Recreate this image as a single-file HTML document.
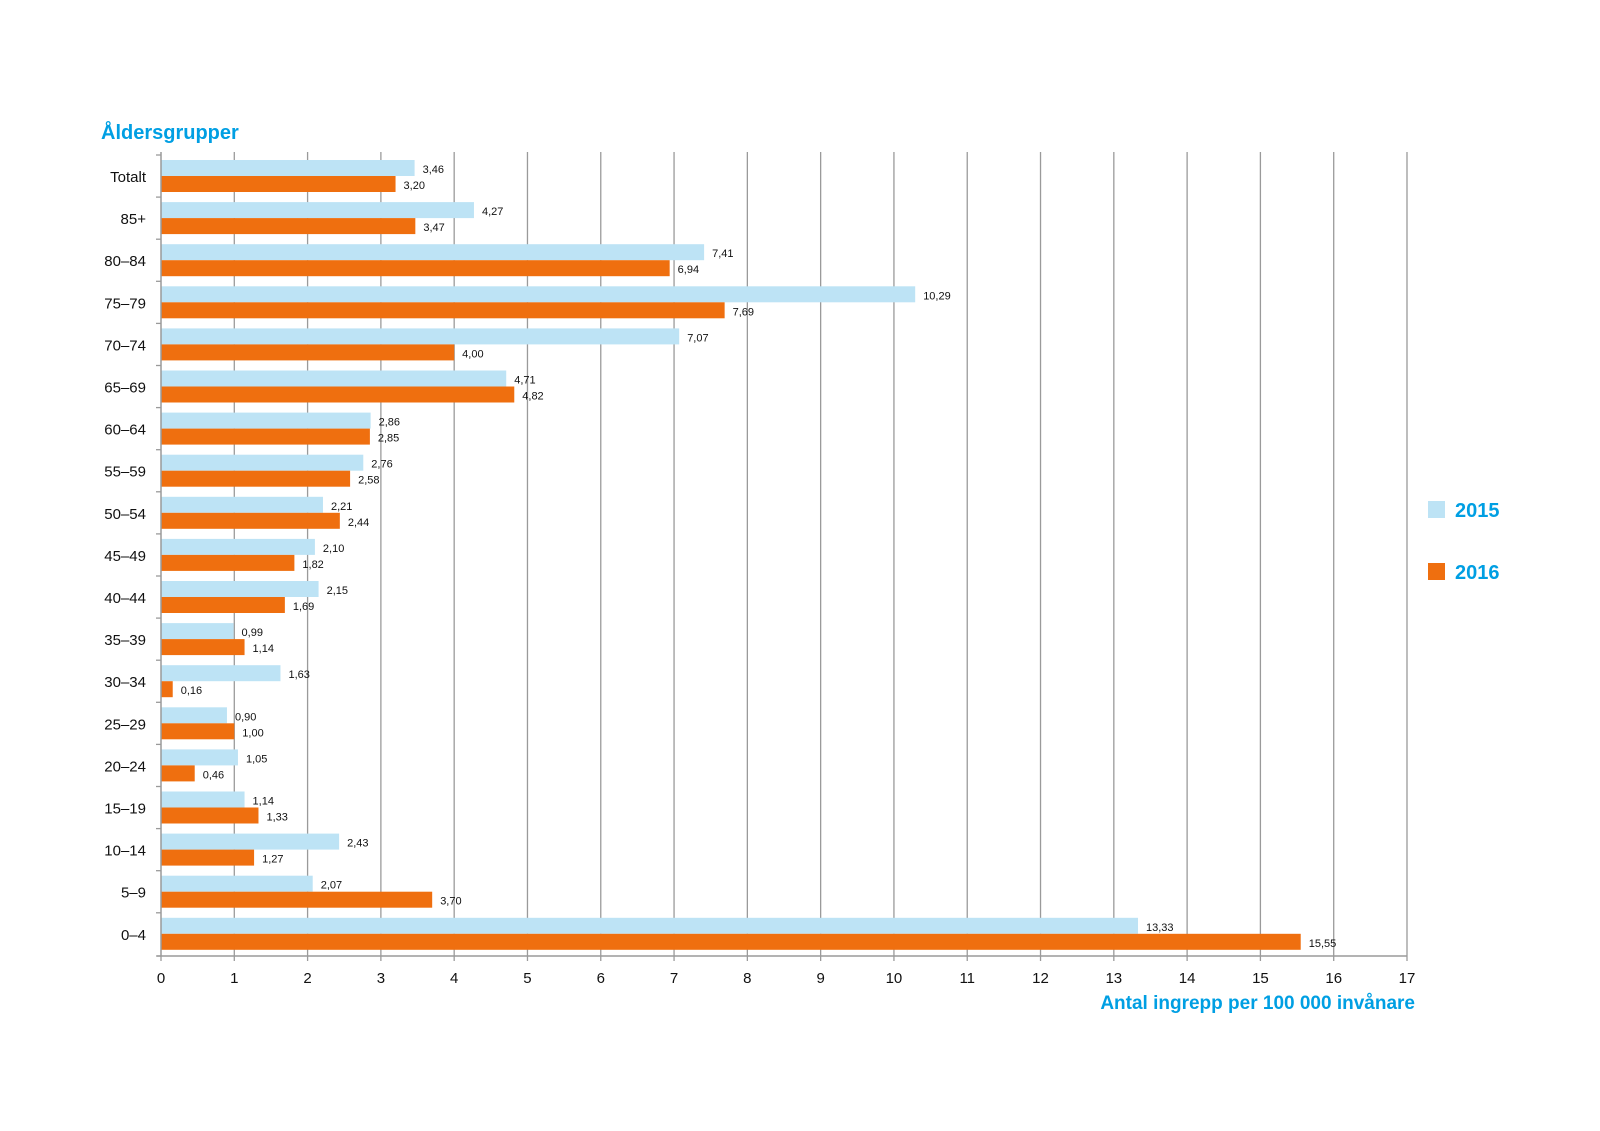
<!DOCTYPE html>
<html><head><meta charset="utf-8"><style>
html,body{margin:0;padding:0;background:#fff;}
svg{display:block;font-family:"Liberation Sans",sans-serif;}
</style></head><body>
<svg id="chart" width="1600" height="1131" viewBox="0 0 1600 1131">
<text x="101" y="139" font-size="20" font-weight="bold" fill="#009fe3">Åldersgrupper</text>
<text x="1415" y="1009" text-anchor="end" font-size="19" font-weight="bold" fill="#009fe3">Antal ingrepp per 100 000 invånare</text>
<g id="grid"></g><g id="bars"></g><g id="axes"></g>
<g>
<rect x="1428" y="501" width="17" height="17" fill="#bde3f5"/>
<text x="1455" y="517" font-size="20" font-weight="bold" fill="#009fe3">2015</text>
<rect x="1428" y="563" width="17" height="17" fill="#ef6f0f"/>
<text x="1455" y="579" font-size="20" font-weight="bold" fill="#009fe3">2016</text>
</g>
</svg>
<script>
const categories=["Totalt","85+","80–84","75–79","70–74","65–69","60–64","55–59","50–54","45–49","40–44","35–39","30–34","25–29","20–24","15–19","10–14","5–9","0–4"];
const values2015=[3.46,4.27,7.41,10.29,7.07,4.71,2.86,2.76,2.21,2.10,2.15,0.99,1.63,0.90,1.05,1.14,2.43,2.07,13.33];
const values2016=[3.20,3.47,6.94,7.69,4.00,4.82,2.85,2.58,2.44,1.82,1.69,1.14,0.16,1.00,0.46,1.33,1.27,3.70,15.55];
const xTicks=[0,1,2,3,4,5,6,7,8,9,10,11,12,13,14,15,16,17];
const NS="http://www.w3.org/2000/svg";
const x0=161,xMax=17,xPx=1407-161;
const yTop=160,pitch=42.1,barH=16,axisY=956;
function xs(v){return x0+v/xMax*xPx;}
function ys(i){return yTop+i*pitch;}
function mk(tag,attrs,parent){const e=document.createElementNS(NS,tag);for(const k in attrs)e.setAttribute(k,attrs[k]);parent.appendChild(e);return e;}
const grid=document.getElementById('grid'),bars=document.getElementById('bars'),axes=document.getElementById('axes');
xTicks.forEach(t=>{
  if(t>0){const l=mk('line',{x1:xs(t),x2:xs(t),y1:152,y2:axisY,stroke:'#9a9a9a','stroke-width':1.3},grid);
  
  }
  const tk=mk('line',{x1:xs(t),x2:xs(t),y1:axisY,y2:axisY+5,stroke:'#9a9a9a','stroke-width':1.3},axes);
  
  
  const tl=mk('text',{x:xs(t),y:983,'font-size':15,'text-anchor':'middle',fill:'#111'},axes);
  tl.textContent=t;
  
  
});
const ya=mk('line',{x1:x0,x2:x0,y1:152,y2:axisY,stroke:'#9a9a9a','stroke-width':1.5},axes);


const xa=mk('line',{x1:157,x2:xs(17),y1:axisY,y2:axisY,stroke:'#9a9a9a','stroke-width':1.5},axes);


for(let i=0;i<=categories.length;i++){
  const y=i===categories.length?axisY:ys(i)-5;
  const t=mk('line',{x1:156,x2:x0,y1:y,y2:y,stroke:'#9a9a9a','stroke-width':1.3},axes);
  
  
}
function fmt(v){return v.toFixed(2).replace('.',',');}
categories.forEach((c,i)=>{
  const y=ys(i);
  const lab=mk('text',{x:146,y:y+22,'font-size':15,'text-anchor':'end',fill:'#111'},axes);
  lab.textContent=c;
  
  
  [[values2015[i],'#bde3f5',y,'2015'],[values2016[i],'#ef6f0f',y+barH,'2016']].forEach(([v,col,by,yr])=>{
    const r=mk('rect',{x:x0,y:by,width:xs(v)-x0,height:barH,fill:col},bars);
    
    
    const vt=mk('text',{x:xs(v)+8,y:by+13,'font-size':11,fill:'#111'},bars);
    vt.textContent=fmt(v);
    
    
  });
});
</script>
</body></html>
